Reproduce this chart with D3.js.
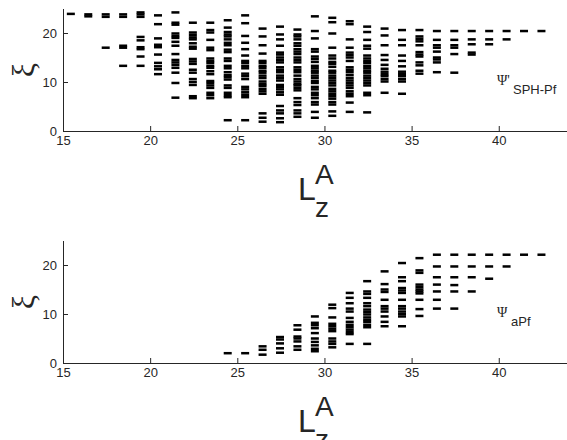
<!DOCTYPE html>
<html>
<head>
<meta charset="utf-8">
<script src="https://cdn.jsdelivr.net/npm/d3@7"></script>
<style>
  body { margin: 0; background: #fff; }
  text { font-family: "Liberation Sans", Arial, sans-serif; fill: #262626; }
</style>
</head>
<body>
<svg id="chart" width="567" height="440"></svg>
<script>
// 横轴刻度 / 纵轴刻度
const xTicks = [15, 20, 25, 30, 35, 40];
const yTicks = [0, 10, 20];

// 上图 Ψ'SPH-Pf : 每列的 Lz 与对应的 ξ
const lzTop = [15.45, 16.45, 17.45, 18.45, 19.45, 20.45, 21.45, 22.45, 23.45, 24.45,
  25.45, 26.45, 27.45, 28.45, 29.45, 30.45, 31.45, 32.45, 33.45, 34.45,
  35.45, 36.45, 37.45, 38.45, 39.45, 40.45, 41.45, 42.45];
const xiTop = [
  [23.9],
  [23.4, 23.8],
  [23.3, 23.8, 17.0],
  [23.3, 23.8, 17.0, 17.4, 13.3],
  [24.2, 23.8, 23.3, 19.2, 18.5, 17.1, 16.7, 15.2, 13.3],
  [23.6, 21.8, 18.9, 17.6, 17.1, 15.6, 13.9, 13.2, 12.6, 11.6],
  [24.2, 22.1, 21.7, 19.9, 19.4, 19.0, 18.2, 17.4, 15.7, 14.5, 14.0, 13.5, 12.9, 11.9, 9.8, 6.8],
  [22.1, 20.1, 19.6, 19.1, 18.7, 17.9, 17.2, 16.8, 14.7, 14.2, 13.7, 12.5, 11.9, 10.6, 10.0, 9.4, 7.1, 6.7],
  [22.1, 20.6, 20.1, 18.6, 17.0, 16.5, 14.8, 14.3, 13.9, 13.3, 12.9, 12.2, 11.6, 10.2, 9.8, 9.3, 8.8, 7.8, 7.3, 6.7],
  [22.6, 21.1, 20.2, 19.7, 19.3, 18.7, 18.0, 17.5, 16.6, 16.1, 14.8, 14.3, 13.3, 12.8, 12.0, 11.4, 11.0, 10.5, 9.3, 8.8, 7.8, 7.3, 6.9, 2.2],
  [23.6, 22.0, 19.4, 18.0, 16.7, 15.4, 14.3, 13.9, 13.3, 12.8, 11.7, 11.2, 10.6, 9.0, 8.5, 7.9, 7.4, 6.9, 2.2],
  [20.9, 19.3, 17.5, 15.8, 14.3, 13.9, 13.3, 12.9, 12.3, 11.9, 11.3, 10.8, 10.1, 9.6, 9.2, 8.6, 8.1, 7.6, 3.6, 2.7, 1.9],
  [21.3, 19.7, 18.7, 17.4, 16.0, 15.6, 15.0, 14.5, 14.0, 13.0, 12.5, 12.0, 11.3, 10.8, 10.3, 9.4, 9.0, 8.5, 7.9, 7.4, 5.1, 4.2, 3.6, 2.6, 1.8],
  [20.7, 19.7, 19.3, 18.7, 17.9, 17.4, 16.7, 16.2, 15.7, 15.0, 14.5, 14.0, 13.0, 12.5, 12.0, 11.3, 10.6, 10.1, 9.6, 9.3, 8.8, 8.3, 6.7, 5.9, 5.3, 4.2, 3.6, 2.9],
  [23.4, 20.4, 18.9, 16.7, 16.2, 15.2, 14.7, 14.1, 13.3, 12.8, 12.3, 11.9, 11.3, 10.8, 10.2, 9.8, 9.0, 8.5, 7.8, 7.3, 6.7, 5.9, 5.4, 3.9, 2.7],
  [23.1, 22.2, 19.9, 17.0, 15.4, 14.8, 14.1, 13.7, 13.1, 12.3, 11.9, 11.3, 10.8, 10.3, 9.8, 9.3, 8.6, 8.1, 7.6, 7.1, 6.6, 5.9, 5.4, 4.0, 3.1],
  [22.4, 21.8, 18.7, 17.0, 16.0, 15.5, 15.0, 14.3, 13.0, 12.5, 12.0, 11.4, 10.8, 10.3, 9.8, 9.3, 8.8, 8.1, 7.6, 7.1, 5.8, 3.9],
  [21.3, 20.2, 18.6, 17.4, 16.8, 15.4, 14.8, 14.3, 13.9, 13.3, 12.8, 12.3, 11.9, 11.3, 10.8, 10.3, 9.8, 9.3, 7.8, 7.3, 3.8],
  [20.9, 19.5, 17.5, 15.5, 14.5, 13.5, 12.7, 12.1, 11.6, 11.2, 10.6, 10.1, 7.8],
  [20.6, 18.6, 17.5, 15.4, 14.3, 13.2, 12.1, 11.6, 11.2, 10.6, 10.1, 7.6],
  [20.6, 19.3, 18.8, 18.3, 17.5, 16.1, 15.6, 15.2, 14.0, 13.4, 12.3, 11.7],
  [20.4, 18.6, 17.5, 17.0, 16.2, 15.0, 14.6, 14.0, 12.0],
  [20.4, 18.6, 17.5, 17.0, 15.7, 11.9],
  [20.4, 18.7, 17.7, 16.0, 15.6],
  [20.4, 18.7, 17.7],
  [20.4, 18.7],
  [20.4],
  [20.4]
];

// 下图 ΨaPf
const lzBottom = [24.45, 25.45, 26.45, 27.45, 28.45, 29.45, 30.45, 31.45, 32.45, 33.45,
  34.45, 35.45, 36.45, 37.45, 38.45, 39.45, 40.45, 41.45, 42.45];
const xiBottom = [
  [2.0],
  [2.0],
  [3.4, 2.7, 1.7],
  [5.3, 4.8, 4.0, 3.0, 2.1],
  [7.7, 6.8, 5.4, 5.0, 4.4, 3.4, 2.7],
  [9.5, 8.2, 7.7, 7.1, 6.1, 5.0, 4.3, 3.6, 2.9, 2.4],
  [11.9, 11.2, 9.3, 8.0, 7.5, 7.0, 6.5, 5.0, 4.4, 3.9, 3.2],
  [14.3, 13.3, 12.2, 11.1, 10.5, 9.2, 8.4, 7.8, 7.3, 6.8, 6.3, 5.9, 3.9],
  [16.7, 14.6, 14.1, 13.3, 12.2, 11.6, 10.9, 10.4, 9.9, 9.3, 8.8, 8.4, 7.8, 7.3, 3.9],
  [18.7, 16.1, 15.0, 14.5, 12.9, 11.6, 11.1, 10.5, 9.5, 8.4, 7.5],
  [20.4, 17.5, 16.7, 15.3, 14.8, 14.3, 12.9, 11.6, 11.1, 10.5, 10.0, 9.5, 7.5],
  [21.4, 18.9, 18.4, 16.0, 15.5, 15.0, 14.6, 14.2, 12.9, 11.0, 9.6],
  [22.1, 19.7, 17.5, 16.0, 14.6, 12.9, 11.1],
  [22.1, 19.7, 17.5, 15.9, 14.6, 11.1],
  [22.1, 19.7, 17.5, 14.6],
  [22.1, 19.7, 17.2],
  [22.1, 19.7],
  [22.1],
  [22.1]
];

const svg = d3.select('#chart');
const axisColor = '#262626';

const x = d3.scaleLinear()
  .domain([15, 44])
  .range([63, 63 + 29 * 17.43]);

function drawPanel(top, cols, vals, name, sub) {
  let y = d3.scaleLinear().domain([0, 25]).range([top + 123, top + 0.5]);
  let g = svg.append('g');

  // 点（短横线）
  let pts = [];
  cols.forEach((lz, i) => vals[i].forEach(v => pts.push({ lz: lz, xi: v })));
  g.selectAll('rect.mk')
    .data(pts)
    .enter()
    .append('rect')
    .attr('class', 'mk')
    .attr('x', d => x(d.lz) - 4)
    .attr('y', d => y(d.xi) - 1.25)
    .attr('width', 8)
    .attr('height', 2.5)
    .attr('fill', '#000');

  // 坐标轴
  let xAxis = g.append('g')
    .attr('transform', `translate(0,${top + 123})`)
    .call(d3.axisBottom(x).tickValues(xTicks).tickSizeInner(-5).tickSizeOuter(0).tickPadding(5));
  let yAxis = g.append('g')
    .attr('transform', `translate(${x(15)},0)`)
    .call(d3.axisLeft(y).tickValues(yTicks).tickSizeInner(-5).tickSizeOuter(0).tickPadding(6));
  [xAxis, yAxis].forEach(a => {
    a.select('.domain').attr('stroke', axisColor).attr('stroke-width', 1);
    a.selectAll('.tick line').attr('stroke', axisColor);
    a.selectAll('.tick text')
      .style('font-family', '"Liberation Sans", Arial, sans-serif')
      .style('font-size', '13px')
      .attr('fill', axisColor);
  });

  // x 轴标题 L_z^A
  let lx = 298, ly = top + 192;
  g.append('text').attr('x', lx).attr('y', ly).style('font-size', '32px').text('L');
  g.append('text').attr('x', lx + 17).attr('y', ly - 16).style('font-size', '28px').text('A');
  g.append('text').attr('x', lx + 17).attr('y', ly + 17).style('font-size', '28px').text('z');

  // y 轴标题 ξ
  g.append('text')
    .attr('transform', `translate(34,${top + 62}) rotate(-90)`)
    .attr('text-anchor', 'middle')
    .style('font-family', '"Liberation Serif", serif')
    .style('font-size', '32px')
    .text('ξ');

  // 图内标注
  g.append('text')
    .attr('x', 497).attr('y', top + 77)
    .style('font-family', '"Liberation Serif", serif')
    .style('font-size', '14px')
    .text(name);
  g.append('text')
    .attr('x', sub === 'aPf' ? 511 : 513).attr('y', top + 86)
    .style('font-size', '13px')
    .text(sub);
}

drawPanel(8, lzTop, xiTop, "Ψ'", 'SPH-Pf');
drawPanel(240, lzBottom, xiBottom, 'Ψ', 'aPf');
</script>
</body>
</html>
